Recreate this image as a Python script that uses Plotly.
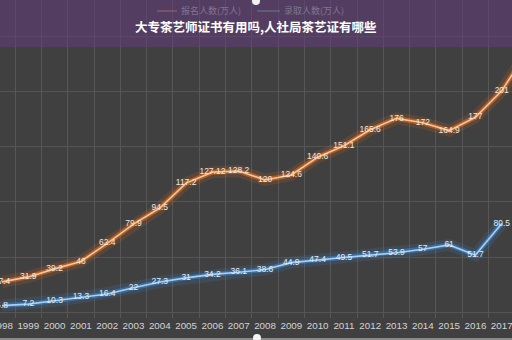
import plotly.graph_objects as go

years = list(range(1998, 2019))
applicants = [27.4, 31.9, 39.2, 46, 62.4, 79.9, 94.5, 117.2, 127.12, 128.2, 120,
              124.6, 140.6, 151.1, 165.6, 176, 172, 164.9, 177, 201, 238]
admitted = [5.8, 7.2, 10.3, 13.3, 16.4, 22, 27.3, 31, 34.2, 36.1, 38.6,
            44.9, 47.4, 49.5, 51.7, 53.9, 57, 61, 51.7, 80.5, None]
series_names = ["报名人数(万人)", "录取人数(万人)"]
title_text = "大专茶艺师证书有用吗,人社局茶艺证有哪些"
tick_years = list(range(1998, 2018))

BG = "#404040"
fig = go.Figure()

def add_series(vals, glow, core, txtcol):
    fig.add_trace(go.Scatter(x=years, y=vals, mode="lines", line=dict(color=glow, width=12),
                             opacity=0.16, hoverinfo="skip", showlegend=False))
    fig.add_trace(go.Scatter(x=years, y=vals, mode="lines", line=dict(color=glow, width=5),
                             opacity=0.55, hoverinfo="skip", showlegend=False))
    fig.add_trace(go.Scatter(x=years, y=vals, mode="lines+text", line=dict(color=core, width=1.6),
                             text=[("" if v is None else f"{v:g}") for v in vals],
                             textposition="middle center",
                             textfont=dict(size=8.5, color=txtcol, family="Liberation Sans"),
                             showlegend=False))

add_series(applicants, "#e8701e", "#f6c49a", "#f3e6dc")
add_series(admitted, "#3d86d0", "#a9d0f2", "#e2ecf5")

H = 318  # plot area height in px
def py(px):
    return 1 - px / H

shapes = [
    dict(type="rect", xref="paper", yref="paper", x0=0, x1=1, y0=py(47), y1=py(0),
         fillcolor="rgba(98,60,125,0.55)", line=dict(width=0), layer="above"),
    dict(type="line", xref="paper", yref="paper", x0=157/512, x1=177/512, y0=py(11), y1=py(11),
         line=dict(color="#93606e", width=1.2), layer="above"),
    dict(type="line", xref="paper", yref="paper", x0=257/512, x1=280/512, y0=py(11), y1=py(11),
         line=dict(color="#6a6e90", width=1.2), layer="above"),
    dict(type="circle", xref="paper", yref="paper", x0=252/512, x1=260/512, y0=py(5), y1=py(-3),
         fillcolor="#f0f0f0", line=dict(width=0), layer="above"),
    dict(type="rect", xref="paper", yref="paper", x0=0, x1=1, y0=py(340), y1=py(338),
         fillcolor="#8a8a8a", line=dict(width=0), layer="above"),
    dict(type="circle", xref="paper", yref="paper", x0=253/512, x1=261/512, y0=py(342), y1=py(334),
         fillcolor="#f4f4f4", line=dict(width=0), layer="above"),
]

annotations = [
    dict(text="<b>" + title_text + "</b>", xref="paper", yref="paper", x=0.5, y=py(27),
         xanchor="center", yanchor="middle", showarrow=False,
         font=dict(size=12.5, color="#ffffff", family="Noto Sans CJK SC")),
    dict(text=series_names[0], xref="paper", yref="paper", x=179/512, y=py(10.5),
         xanchor="left", yanchor="middle", showarrow=False,
         font=dict(size=9, color="#85728f", family="Noto Sans CJK SC")),
    dict(text=series_names[1], xref="paper", yref="paper", x=282/512, y=py(10.5),
         xanchor="left", yanchor="middle", showarrow=False,
         font=dict(size=9, color="#7f7790", family="Noto Sans CJK SC")),
]

fig.update_layout(
    width=512, height=340,
    margin=dict(l=0, r=0, t=0, b=22, pad=0, autoexpand=False),
    paper_bgcolor=BG, plot_bgcolor=BG,
    shapes=shapes, annotations=annotations,
    showlegend=False,
    xaxis=dict(range=[1997.924, 2017.39], tickvals=tick_years, ticktext=[str(y) for y in tick_years],
               showgrid=False, zeroline=False, showline=False, ticks="",
               ticklabeloverflow="allow", automargin=False,
               tickfont=dict(size=9.8, color="#d4d4d4", family="Liberation Sans"),
               minor=dict(tickvals=[y + 0.5 for y in range(1997, 2018)], showgrid=True,
                          gridcolor="#575757", gridwidth=1, ticks="")),
    yaxis=dict(range=[-5.45, 283.6], dtick=50, showticklabels=False, showgrid=True,
               gridcolor="#545454", zeroline=False, showline=False, automargin=False),
)

fig.write_html("out.html")
